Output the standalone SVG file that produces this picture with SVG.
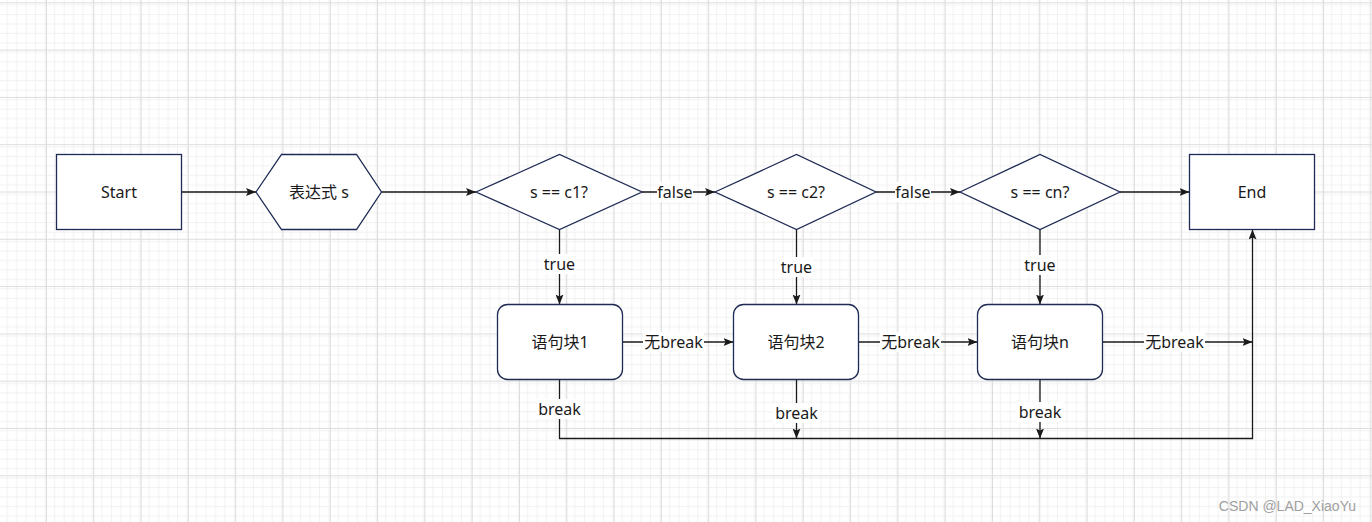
<svg xmlns="http://www.w3.org/2000/svg" width="1372" height="522" viewBox="0 0 1372 522">
<defs>
<pattern id="minor" x="46" y="2.3" width="9.46" height="9.46" patternUnits="userSpaceOnUse">
<path d="M0.5 0V9.46M0 0.5H9.46" fill="none" stroke="#f0f0f0" stroke-width="1"/>
</pattern>
<pattern id="major" x="46" y="2.3" width="47.3" height="47.3" patternUnits="userSpaceOnUse">
<rect width="47.3" height="47.3" fill="url(#minor)"/>
<path d="M0.5 0V47.3M0 0.5H47.3" fill="none" stroke="#dddddd" stroke-width="1"/>
</pattern>
<marker id="arr" viewBox="0 0 10 8" refX="10" refY="4" markerWidth="10" markerHeight="8" markerUnits="userSpaceOnUse" orient="auto">
<path d="M0,0 L10,4 L0,8 L2,4 Z" fill="#1a1a1a"/>
</marker>
</defs>
<style>
.node{fill:#ffffff;stroke:#1f2a55;stroke-width:1.3}
.edge{fill:none;stroke:#1a1a1a;stroke-width:1.3}
.t{font-family:"Noto Sans","Noto Sans CJK SC",sans-serif;font-size:16px;fill:#1a1a1a;text-anchor:middle;dominant-baseline:central}
.lbg{fill:#ffffff}
</style>
<rect width="1372" height="522" fill="#ffffff"/>
<rect width="1372" height="522" fill="url(#major)"/>

<g id="connectors">
<path class="edge" d="M181.5 192H256" marker-end="url(#arr)"/>
<path class="edge" d="M381.5 192H476" marker-end="url(#arr)"/>
<path class="edge" d="M642 192H715" marker-end="url(#arr)"/>
<path class="edge" d="M876 192H960" marker-end="url(#arr)"/>
<path class="edge" d="M1120 192H1189.5" marker-end="url(#arr)"/>
<path class="edge" d="M559.5 229.5V304.5" marker-end="url(#arr)"/>
<path class="edge" d="M796.5 229.5V304.5" marker-end="url(#arr)"/>
<path class="edge" d="M1040 229.5V304.5" marker-end="url(#arr)"/>
<path class="edge" d="M622.5 342H733.5" marker-end="url(#arr)"/>
<path class="edge" d="M858.5 342H977.5" marker-end="url(#arr)"/>
<path class="edge" d="M1102.5 342H1252.5" marker-end="url(#arr)"/>
<path class="edge" d="M559.5 379.5V438.5H1252.5V229.5" marker-end="url(#arr)"/>
<path class="edge" d="M796.5 379.5V438.5" marker-end="url(#arr)"/>
<path class="edge" d="M1040 379.5V438.5" marker-end="url(#arr)"/>
<g id="edge-labels">
<rect class="lbg" x="657" y="182" width="36" height="20"/>
<text class="t" x="675" y="192">false</text>
<rect class="lbg" x="895" y="182" width="36" height="20"/>
<text class="t" x="913" y="192">false</text>
<rect class="lbg" x="543" y="254" width="33" height="20"/>
<text class="t" x="559.5" y="264">true</text>
<rect class="lbg" x="780" y="257" width="33" height="20"/>
<text class="t" x="796.5" y="267">true</text>
<rect class="lbg" x="1023.5" y="255" width="33" height="20"/>
<text class="t" x="1040" y="265">true</text>
<rect class="lbg" x="643" y="332" width="61" height="20"/>
<text class="t" x="673.5" y="342">无break</text>
<rect class="lbg" x="880" y="332" width="61" height="20"/>
<text class="t" x="910.5" y="342">无break</text>
<rect class="lbg" x="1144" y="332" width="61" height="20"/>
<text class="t" x="1174.5" y="342">无break</text>
<rect class="lbg" x="536" y="399" width="47" height="20"/>
<text class="t" x="559.5" y="409">break</text>
<rect class="lbg" x="773" y="403" width="47" height="20"/>
<text class="t" x="796.5" y="413">break</text>
<rect class="lbg" x="1016.5" y="402" width="47" height="20"/>
<text class="t" x="1040" y="412">break</text>
</g>
</g>

<g id="start">
<rect class="node" x="56.5" y="154.5" width="125" height="75"/>
<text class="t" x="119" y="192">Start</text>
</g>
<g id="expr">
<polygon class="node" points="256,192 281.5,154.5 356.5,154.5 381.5,192 356.5,229.5 281.5,229.5"/>
<text class="t" x="319" y="192">表达式 s</text>
</g>
<g id="cond1">
<polygon class="node" points="476,192 559.5,154.5 642,192 559.5,229.5"/>
<text class="t" x="559" y="192">s == c1?</text>
</g>
<g id="cond2">
<polygon class="node" points="715,192 796.5,154.5 876,192 796.5,229.5"/>
<text class="t" x="796" y="192">s == c2?</text>
</g>
<g id="condn">
<polygon class="node" points="960,192 1040,154.5 1120,192 1040,229.5"/>
<text class="t" x="1040" y="192">s == cn?</text>
</g>
<g id="end">
<rect class="node" x="1189.5" y="154.5" width="125" height="75"/>
<text class="t" x="1252" y="192">End</text>
</g>
<g id="block1">
<rect class="node" x="497.5" y="304.5" width="125" height="75" rx="10"/>
<text class="t" x="560" y="342">语句块1</text>
</g>
<g id="block2">
<rect class="node" x="733.5" y="304.5" width="125" height="75" rx="10"/>
<text class="t" x="796" y="342">语句块2</text>
</g>
<g id="blockn">
<rect class="node" x="977.5" y="304.5" width="125" height="75" rx="10"/>
<text class="t" x="1040" y="342">语句块n</text>
</g>
<text x="1356" y="511" font-family="'Liberation Sans',sans-serif" font-size="14" fill="#a0a0a0" text-anchor="end">CSDN @LAD_XiaoYu</text>
</svg>
